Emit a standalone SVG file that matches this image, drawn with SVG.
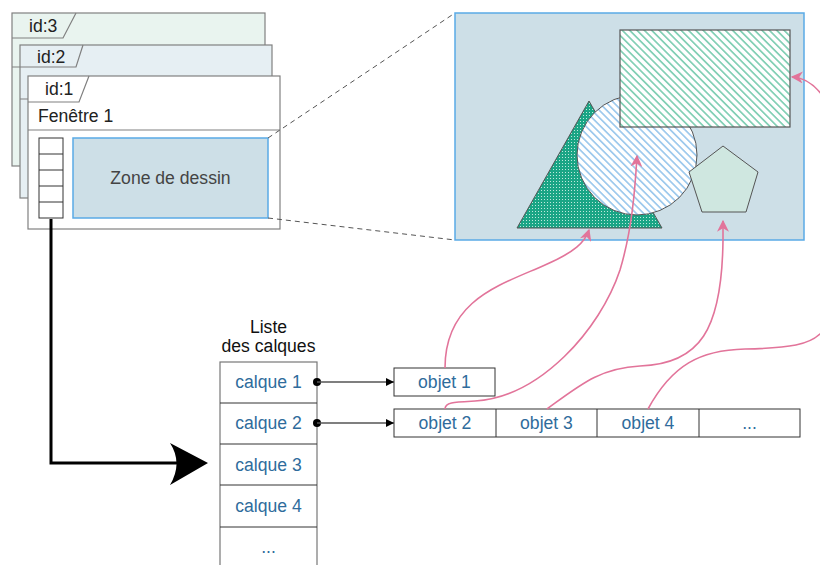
<svg xmlns="http://www.w3.org/2000/svg" width="820" height="565" viewBox="0 0 820 565">
<style>
text{font-family:"Liberation Sans",Arial,sans-serif;font-size:17.6px}
.win{stroke:#808080;stroke-width:1.2}
.wl{fill:none;stroke:#808080;stroke-width:1.2}
.t{fill:#222}
.b{fill:#2f6c9c;text-anchor:middle}
.cell{fill:#fff;stroke:#333;stroke-width:1}
.pk{fill:none;stroke:#e2749a;stroke-width:1.6;marker-end:url(#pa)}
.bk{stroke:#555;stroke-width:1.3;marker-end:url(#ba)}
</style>
<defs>
<pattern id="hg" patternUnits="userSpaceOnUse" width="10" height="5.2" patternTransform="rotate(45)">
<rect width="10" height="5.2" fill="#fff"/><line x1="0" y1="2.6" x2="10" y2="2.6" stroke="#4dbb96" stroke-width="1.2"/>
</pattern>
<pattern id="hb" patternUnits="userSpaceOnUse" width="10" height="5.2" patternTransform="rotate(45)">
<rect width="10" height="5.2" fill="#fff"/><line x1="0" y1="2.6" x2="10" y2="2.6" stroke="#74b2e6" stroke-width="1.2"/>
</pattern>
<pattern id="dt" patternUnits="userSpaceOnUse" width="3" height="3">
<rect width="3" height="3" fill="#1aa585"/><rect x="1" y="1" width="1" height="1" fill="#bfe8dd"/>
</pattern>
<marker id="pa" viewBox="0 0 10 10" refX="9" refY="5" markerWidth="12" markerHeight="12" markerUnits="userSpaceOnUse" orient="auto">
<path d="M0,0 L10,5 L0,10 L3,5 Z" fill="#e2749a"/>
</marker>
<marker id="ba" viewBox="0 0 10 10" refX="10" refY="5" markerWidth="8" markerHeight="8" markerUnits="userSpaceOnUse" orient="auto">
<path d="M0,0 L10,5 L0,10 Z" fill="#000"/>
</marker>
</defs>

<g id="window3">
<rect class="win" x="12" y="13" width="253" height="153" fill="#e9f4ef"/>
<path class="wl" d="M12,38 H63 L76,13 M12,67 H265"/>
<text class="t" x="29" y="32">id:3</text>
</g>
<g id="window2">
<rect class="win" x="20" y="45" width="252" height="153" fill="#e6eff3"/>
<path class="wl" d="M20,67 H76 L83,45 M20,99 H272"/>
<text class="t" x="37" y="63">id:2</text>
</g>
<g id="window1">
<rect class="win" x="28" y="76" width="252" height="153" fill="#fff"/>
<path class="wl" d="M28,102 H79 L89,76 M28,130 H280"/>
<text class="t" x="45" y="95">id:1</text>
<text class="t" x="38" y="122">Fenêtre 1</text>
</g>
<g id="layer-column">
<rect x="39" y="138" width="24" height="80" fill="#fff" stroke="#333" stroke-width="1"/>
<path d="M39,154 H63 M39,170 H63 M39,186 H63 M39,202 H63" stroke="#333" stroke-width="1"/>
</g>
<g id="zone">
<rect x="73" y="138" width="195" height="80" fill="#cddfe7" stroke="#5aaae6" stroke-width="1.5"/>
<text x="170.5" y="184" fill="#444" text-anchor="middle">Zone de dessin</text>
</g>

<g id="canvas">
<rect x="455" y="13" width="349" height="227" fill="#cddfe7" stroke="#5aaae6" stroke-width="1.5"/>
<polygon points="589,101 517,228 662,228" fill="url(#dt)" stroke="#555" stroke-width="1"/>
<circle cx="637" cy="155" r="60" fill="url(#hb)" stroke="#555" stroke-width="1"/>
<rect x="620" y="30" width="170" height="97" fill="url(#hg)" stroke="#555" stroke-width="1.2"/>
<polygon points="723,146 758,172 746,212 702,212 689,172" fill="#cfe7e0" stroke="#555" stroke-width="1"/>
</g>

<g id="calques">
<text x="268.5" y="333" fill="#111" text-anchor="middle">Liste</text>
<text x="268.5" y="352" fill="#111" text-anchor="middle">des calques</text>
<rect x="220" y="362" width="97" height="210" fill="#fff" stroke="#777" stroke-width="1.2"/>
<path d="M220,403 H317 M220,444 H317 M220,485 H317 M220,527 H317" stroke="#333" stroke-width="1"/>
<text class="b" x="268.5" y="388">calque 1</text>
<text class="b" x="268.5" y="429">calque 2</text>
<text class="b" x="268.5" y="471">calque 3</text>
<text class="b" x="268.5" y="512">calque 4</text>
<text class="b" x="268.5" y="553">...</text>
</g>

<g id="objet1">
<rect class="cell" x="394" y="368" width="101" height="28"/>
<text class="b" x="444.5" y="388">objet 1</text>
</g>
<g id="objets">
<rect class="cell" x="394" y="409" width="406" height="28"/>
<path d="M496,409 V437 M597,409 V437 M699,409 V437" stroke="#333" stroke-width="1"/>
<text class="b" x="445" y="429">objet 2</text>
<text class="b" x="546.5" y="429">objet 3</text>
<text class="b" x="648" y="429">objet 4</text>
<text class="b" x="749.5" y="429">...</text>
</g>

<g id="connectors">
<path d="M268,138 L455,13 M268,218 L455,240" stroke="#555" stroke-width="1" stroke-dasharray="5,4" fill="none"/>
<path d="M51,219 V463 H178" fill="none" stroke="#000" stroke-width="3"/>
<path d="M208,463 L170,443 Q183,463 170,485 Z" fill="#000"/>
<circle cx="317" cy="382" r="4" fill="#000"/>
<circle cx="317" cy="423" r="4" fill="#000"/>
<line class="bk" x1="317" y1="382" x2="394" y2="382"/>
<line class="bk" x1="317" y1="423" x2="394" y2="423"/>
<path class="pk" d="M445,368 C445,300 500,285 545,265 C575,252 585,242 589,230"/>
<path class="pk" d="M445,409 C445,402 455,402 475,401 C540,397 600,330 620,270 C632,230 635,190 637,156"/>
<path class="pk" d="M547,409 C580,385 600,368 640,366 C700,364 722,330 723,240 L723,221"/>
<path class="pk" d="M648,409 C672,365 700,350 745,349 C790,348 810,345 822,332 C870,290 860,80 792,77"/>
</g>
</svg>
